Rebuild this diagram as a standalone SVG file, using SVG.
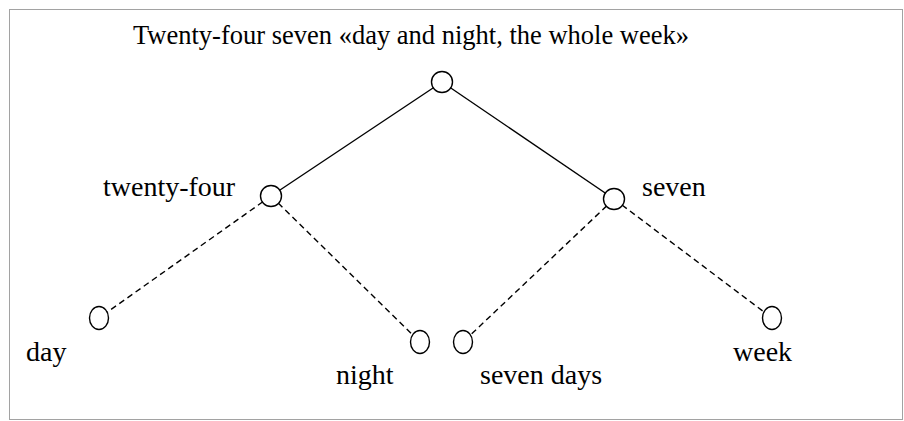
<svg xmlns="http://www.w3.org/2000/svg" width="904" height="421" viewBox="0 0 904 421">
<style>
text{font-family:"Liberation Serif","Times New Roman",serif;font-size:28px;fill:#000}
.title{font-size:26.5px}
.node circle,.node ellipse{fill:#fff;stroke:#000;stroke-width:1.4}
.solid{stroke:#000;stroke-width:1.4;fill:none}
.dash{stroke:#000;stroke-width:1.4;fill:none;stroke-dasharray:6 4}
</style>
<rect x="9.5" y="9.5" width="893" height="410" fill="#fff" stroke="#444" stroke-width="1" stroke-dasharray="1 1"/>
<text class="title" x="133" y="44">Twenty-four seven «day and night, the whole week»</text>
<g id="connectors">
<line class="solid" x1="442" y1="82" x2="271" y2="196"/>
<line class="solid" x1="442" y1="82" x2="614" y2="199"/>
<line class="dash" x1="271" y1="196" x2="99" y2="318"/>
<line class="dash" x1="271" y1="196" x2="420" y2="342"/>
<line class="dash" x1="614" y1="199" x2="463" y2="342"/>
<line class="dash" x1="614" y1="199" x2="772" y2="318"/>
</g>
<g id="root" class="node"><circle cx="442" cy="82" r="10.5"/></g>
<g id="twenty-four" class="node"><circle cx="271" cy="196" r="10.5"/><text x="103" y="196">twenty-four</text></g>
<g id="seven" class="node"><circle cx="614" cy="199" r="10.5"/><text x="642" y="196">seven</text></g>
<g id="day" class="node"><ellipse cx="99" cy="318" rx="9.5" ry="11.5"/><text x="26" y="361">day</text></g>
<g id="night" class="node"><ellipse cx="420" cy="342" rx="9.5" ry="11.5"/><text x="336" y="384">night</text></g>
<g id="seven-days" class="node"><ellipse cx="463" cy="342" rx="9.5" ry="11.5"/><text x="480" y="384">seven days</text></g>
<g id="week" class="node"><ellipse cx="772" cy="318" rx="9.5" ry="11.5"/><text x="733" y="361">week</text></g>
</svg>
